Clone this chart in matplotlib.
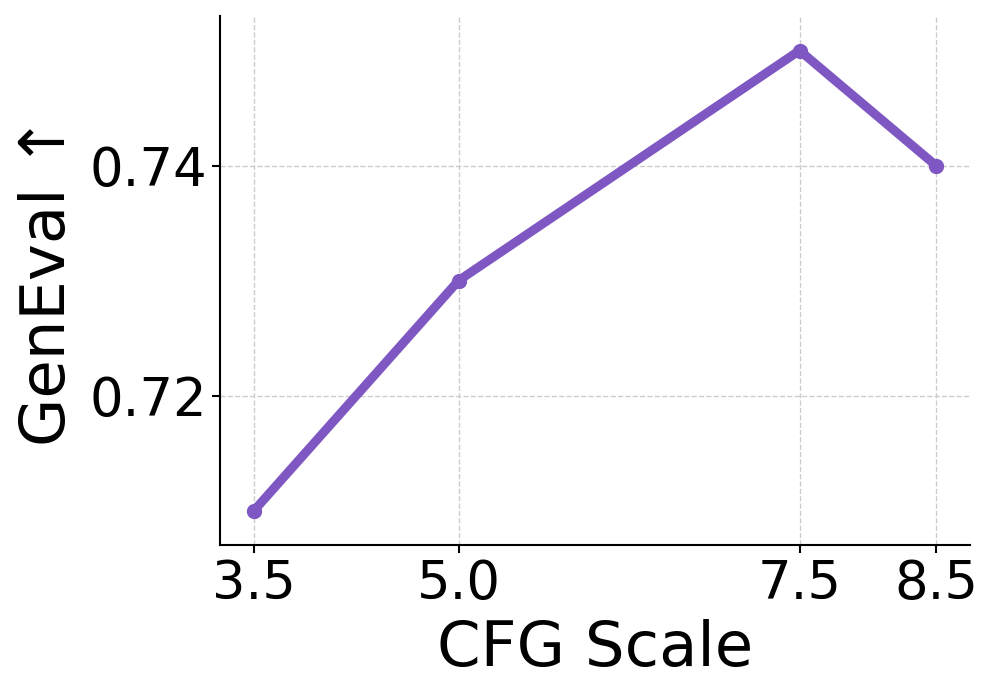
import matplotlib
matplotlib.use("Agg")
import matplotlib.pyplot as plt

cfg_scale = [3.5, 5.0, 7.5, 8.5]
geneval = [0.71, 0.73, 0.75, 0.74]
x_ticks = [3.5, 5.0, 7.5, 8.5]
x_tick_labels = ["3.5", "5.0", "7.5", "8.5"]
y_ticks = [0.72, 0.74]
y_tick_labels = ["0.72", "0.74"]

fig = plt.figure(figsize=(9.96, 6.99), dpi=100)
ax = fig.add_axes([0.2209, 0.2203, 0.9739 - 0.2209, 0.9771 - 0.2203])

ax.plot(cfg_scale, geneval, color="#7E57C2", linewidth=6.5, marker="o",
        markersize=10, solid_capstyle="round", zorder=3)

ax.set_xlim(3.25, 8.75)
ax.set_ylim(0.707, 0.753)
ax.set_xticks(x_ticks)
ax.set_xticklabels(x_tick_labels)
ax.set_yticks(y_ticks)
ax.set_yticklabels(y_tick_labels)

ax.grid(True, linestyle="--", color="#cccccc", linewidth=1.0)
ax.set_axisbelow(True)

for s in ["top", "right"]:
    ax.spines[s].set_visible(False)
for s in ["left", "bottom"]:
    ax.spines[s].set_linewidth(1.5)

ax.tick_params(axis="both", labelsize=38, length=6, width=1.5)
ax.set_xlabel("CFG Scale", fontsize=45, labelpad=6)
ax.set_ylabel("GenEval ↑", fontsize=45, labelpad=8)

fig.savefig("out.png", dpi=100)
